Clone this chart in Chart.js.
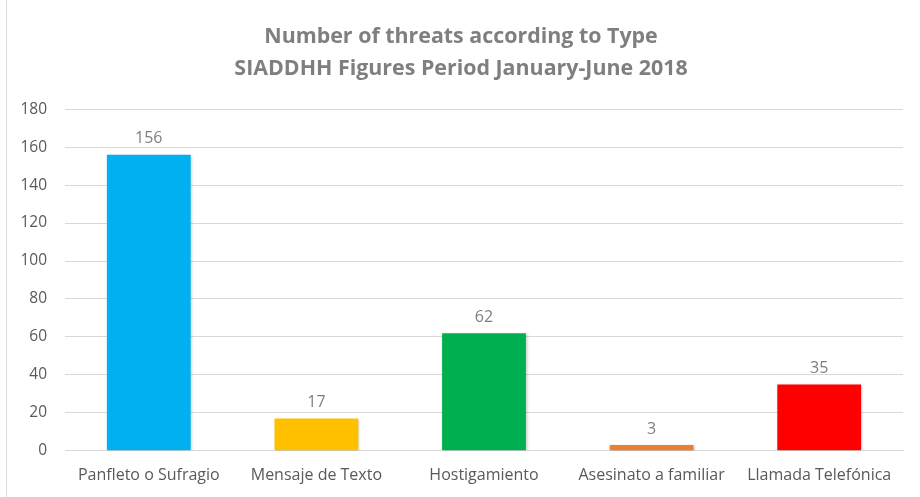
<!DOCTYPE html>
<html>
<head>
<meta charset="utf-8">
<script src="https://cdn.jsdelivr.net/npm/chart.js@4.4.1/dist/chart.umd.min.js"></script>
<style>
  html, body { margin: 0; padding: 0; background: #fff; }
  #wrap { position: absolute; left: 6px; top: 0; width: 914px; height: 497px; border-left: 1px solid #d9d9d9; box-sizing: border-box; }
  canvas { display: block; }
</style>
</head>
<body>
<div id="wrap"><canvas id="chart-threats"></canvas></div>
<script>
// Datos del gráfico
const categorias = ["Panfleto o Sufragio", "Mensaje de Texto", "Hostigamiento", "Asesinato a familiar", "Llamada Telefónica"];
const valores = [156, 17, 62, 3, 35];
const colores = ["#00b0f0", "#ffc000", "#00b050", "#ed7d31", "#ff0000"];
const titulo = ["Number of threats according to Type", "SIADDHH Figures Period January-June 2018"];

const GRIS = "#7f7f7f";
const FUENTE = "'Open Sans', 'Liberation Sans', sans-serif";

// etiquetas de valor encima de cada barra + sombra suave
const valueLabels = {
  id: "valueLabels",
  beforeDatasetDraw(chart) {
    const c = chart.ctx;
    c.save();
    c.shadowColor = "rgba(0,0,0,0.25)";
    c.shadowBlur = 3;
    c.shadowOffsetX = 1;
    c.shadowOffsetY = 1;
  },
  afterDatasetDraw(chart) {
    chart.ctx.restore();
  },
  afterDatasetsDraw(chart) {
    const c = chart.ctx;
    const meta = chart.getDatasetMeta(0);
    c.save();
    c.fillStyle = "#7f7f7f";
    c.font = "16px " + FUENTE;
    c.textAlign = "center";
    c.textBaseline = "bottom";
    meta.data.forEach((bar, i) => {
      c.fillText(String(valores[i]), bar.x, bar.y - 8);
    });
    c.restore();
  }
};

new Chart(document.getElementById("chart-threats"), {
  type: "bar",
  data: {
    labels: categorias,
    datasets: [{ data: valores, backgroundColor: colores, borderWidth: 0, categoryPercentage: 1, barPercentage: 0.5 }]
  },
  options: {
    responsive: true, maintainAspectRatio: false, animation: false,
    layout: { padding: { left: 12, right: 17, top: 0, bottom: 5 } },
    plugins: {
      legend: { display: false },
      tooltip: { enabled: false },
      title: {
        display: true, text: titulo, color: GRIS,
        font: { family: FUENTE, size: 21.4, weight: "bold", lineHeight: 1.5 },
        padding: { top: 21, bottom: 24 }
      }
    },
    scales: {
      x: {
        grid: { display: false },
        border: { color: "#d9d9d9" },
        ticks: { color: "#595959", font: { family: FUENTE, size: 16 }, padding: 7 },
        afterFit: s => { s.paddingLeft = 0; s.paddingRight = 0; }
      },
      y: {
        min: 0, max: 180,
        ticks: { stepSize: 20, color: "#595959", font: { family: FUENTE, size: 15.5 }, padding: 18 },
        grid: { color: "#d9d9d9", drawTicks: false },
        border: { display: false },
        afterFit: s => { s.width = 46; }
      }
    }
  },
  plugins: [valueLabels]
});
</script>
</body>
</html>
